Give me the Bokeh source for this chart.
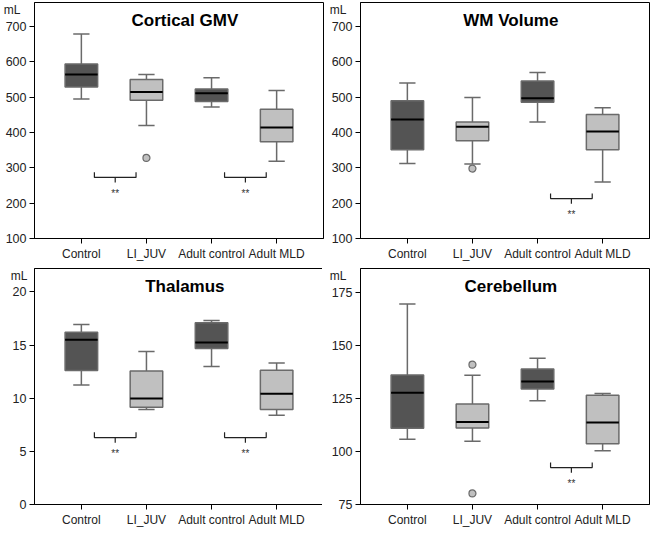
from bokeh.plotting import figure
from bokeh.layouts import gridplot
from bokeh.models import FixedTicker, Range1d, Label, LinearAxis, CustomJSTickFormatter
from bokeh.embed import file_html
from bokeh.resources import INLINE

# ---------------- data ----------------
groups = ["Control", "LI_JUV", "Adult control", "Adult MLD"]
group_pos = [1, 2, 3, 4]
group_shade = ["dark", "light", "dark", "light"]
unit_text = "mL"

# Cortical GMV (mL)
gmv_lower = [495, 420, 472, 319]
gmv_q1 = [529, 491, 488, 374]
gmv_median = [564, 515, 511, 414]
gmv_q3 = [594, 550, 523, 466]
gmv_upper = [679, 564, 555, 519]
gmv_out_x = [2]
gmv_out_y = [328]
gmv_sig = [(1, 2), (3, 4)]
gmv_sig_y = 273
gmv_ticks = [100, 200, 300, 400, 500, 600, 700]
gmv_range = (100, 768)

# WM Volume (mL)
wm_lower = [312, 311, 430, 260]
wm_q1 = [351, 377, 486, 351]
wm_median = [437, 416, 497, 403]
wm_q3 = [490, 430, 546, 451]
wm_upper = [540, 499, 570, 470]
wm_out_x = [2]
wm_out_y = [298]
wm_sig = [(3, 4)]
wm_sig_y = 213
wm_ticks = [100, 200, 300, 400, 500, 600, 700]
wm_range = (100, 768)

# Thalamus (mL)
th_lower = [11.24, 8.94, 12.97, 8.4]
th_q1 = [12.6, 9.15, 14.67, 8.94]
th_median = [15.5, 9.97, 15.24, 10.42]
th_q3 = [16.2, 12.55, 17.1, 12.64]
th_upper = [16.94, 14.4, 17.3, 13.3]
th_out_x = []
th_out_y = []
th_sig = [(1, 2), (3, 4)]
th_sig_y = 6.3
th_ticks = [0, 5, 10, 15, 20]
th_range = (0, 22.2)

# Cerebellum (mL)
cb_lower = [105.8, 104.8, 123.9, 100.3]
cb_q1 = [110.9, 111.1, 129.4, 103.6]
cb_median = [127.7, 113.9, 132.9, 113.6]
cb_q3 = [136.0, 122.4, 138.8, 126.5]
cb_upper = [169.5, 135.9, 143.9, 127.3]
cb_out_x = [2, 2]
cb_out_y = [140.9, 80.2]
cb_sig = [(3, 4)]
cb_sig_y = 92.4
cb_ticks = [75, 100, 125, 150, 175]
cb_range = (75, 186.2)

# ---------------- style ----------------
FONT = "Liberation Sans"
DARK = "#545454"
LIGHT = "#c0c0c0"
EDGE = "#6a6a6a"
FW, FH = 289, 236
BOX_W = 0.5
CAP_W = 0.25


def panel(title, lower, q1, med, q3, upper, out_x, out_y, sig, sig_y, ticks, yr):
    ymin, ymax = yr
    span = ymax - ymin
    p = figure(frame_width=FW, frame_height=FH,
               x_range=Range1d(0.28, 4.72), y_range=Range1d(ymin, ymax),
               output_backend="svg", toolbar_location=None,
               min_border_left=30, min_border_right=3,
               min_border_top=2, min_border_bottom=28)
    p.xgrid.visible = False
    p.ygrid.visible = False
    p.outline_line_color = "black"
    p.outline_line_width = 1
    p.background_fill_color = "white"
    p.border_fill_color = "white"

    for ax in (p.xaxis[0], p.yaxis[0]):
        ax.axis_line_color = "black"
        ax.major_tick_line_color = "black"
        ax.minor_tick_line_color = None
        ax.major_tick_in = 0
        ax.major_tick_out = 5
        ax.major_label_text_font = FONT
        ax.major_label_text_color = "#222222"
        ax.major_label_standoff = 3
    p.xaxis.major_label_text_font_size = "12px"
    p.yaxis.major_label_text_font_size = "12.5px"
    p.xaxis.ticker = FixedTicker(ticks=group_pos)
    p.xaxis.major_label_overrides = {g: n for g, n in zip(group_pos, groups)}
    p.yaxis.ticker = FixedTicker(ticks=ticks)

    # unit text "mL" at the top of the y axis (label-only axis, no line/ticks)
    unit_axis = LinearAxis(
        ticker=FixedTicker(ticks=[ymax - 7.0 / FH * span]),
        formatter=CustomJSTickFormatter(args=dict(t=unit_text), code="return t"),
        axis_line_color=None, major_tick_line_color=None, minor_tick_line_color=None,
        major_tick_in=0, major_tick_out=0, major_label_standoff=-18,
        major_label_text_font=FONT, major_label_text_font_size="12px",
        major_label_text_color="#222222")
    p.add_layout(unit_axis, "left")

    fills = [DARK if s == "dark" else LIGHT for s in group_shade]
    p.segment(x0=group_pos, x1=group_pos, y0=q3, y1=upper, line_color=EDGE, line_width=1.5)
    p.segment(x0=group_pos, x1=group_pos, y0=lower, y1=q1, line_color=EDGE, line_width=1.5)
    p.segment(x0=[x - CAP_W / 2 for x in group_pos], x1=[x + CAP_W / 2 for x in group_pos],
              y0=upper, y1=upper, line_color=EDGE, line_width=1.5)
    p.segment(x0=[x - CAP_W / 2 for x in group_pos], x1=[x + CAP_W / 2 for x in group_pos],
              y0=lower, y1=lower, line_color=EDGE, line_width=1.5)
    p.vbar(x=group_pos, width=BOX_W, bottom=q1, top=q3, fill_color=fills,
           line_color=EDGE, line_width=1.5)
    p.segment(x0=[x - BOX_W / 2 for x in group_pos], x1=[x + BOX_W / 2 for x in group_pos],
              y0=med, y1=med, line_color="black", line_width=2)
    if out_x:
        p.scatter(x=out_x, y=out_y, size=7, fill_color=LIGHT, line_color=EDGE, line_width=1.2)

    h = 0.022 * span
    xs, ys = [], []
    sx, sy = [], []
    for (a, b) in sig:
        left, right = a + 0.2, b - 0.16
        mid = (left + right) / 2
        xs.append([left, left, right, right])
        ys.append([sig_y + h, sig_y, sig_y, sig_y + h])
        xs.append([mid, mid])
        ys.append([sig_y, sig_y - h])
        sx.append(mid)
        sy.append(sig_y - 0.068 * span)
    p.multi_line(xs=xs, ys=ys, line_color="#222222", line_width=1.2)
    for x, y in zip(sx, sy):
        p.add_layout(Label(x=x, y=y, text="**", text_font=FONT, text_font_size="10px",
                           text_color="#333333", text_align="center", text_baseline="middle"))

    p.add_layout(Label(x=2.59, y=ymax - 0.078 * span, text=title, text_font=FONT,
                       text_font_size="17px", text_font_style="bold", text_color="black",
                       text_align="center", text_baseline="middle"))
    return p


p1 = panel("Cortical GMV", gmv_lower, gmv_q1, gmv_median, gmv_q3, gmv_upper,
           gmv_out_x, gmv_out_y, gmv_sig, gmv_sig_y, gmv_ticks, gmv_range)
p2 = panel("WM Volume", wm_lower, wm_q1, wm_median, wm_q3, wm_upper,
           wm_out_x, wm_out_y, wm_sig, wm_sig_y, wm_ticks, wm_range)
p3 = panel("Thalamus", th_lower, th_q1, th_median, th_q3, th_upper,
           th_out_x, th_out_y, th_sig, th_sig_y, th_ticks, th_range)
p4 = panel("Cerebellum", cb_lower, cb_q1, cb_median, cb_q3, cb_upper,
           cb_out_x, cb_out_y, cb_sig, cb_sig_y, cb_ticks, cb_range)

grid = gridplot([[p1, p2], [p3, p4]], toolbar_location=None)

open("out.html", "w").write(file_html(grid, INLINE))
